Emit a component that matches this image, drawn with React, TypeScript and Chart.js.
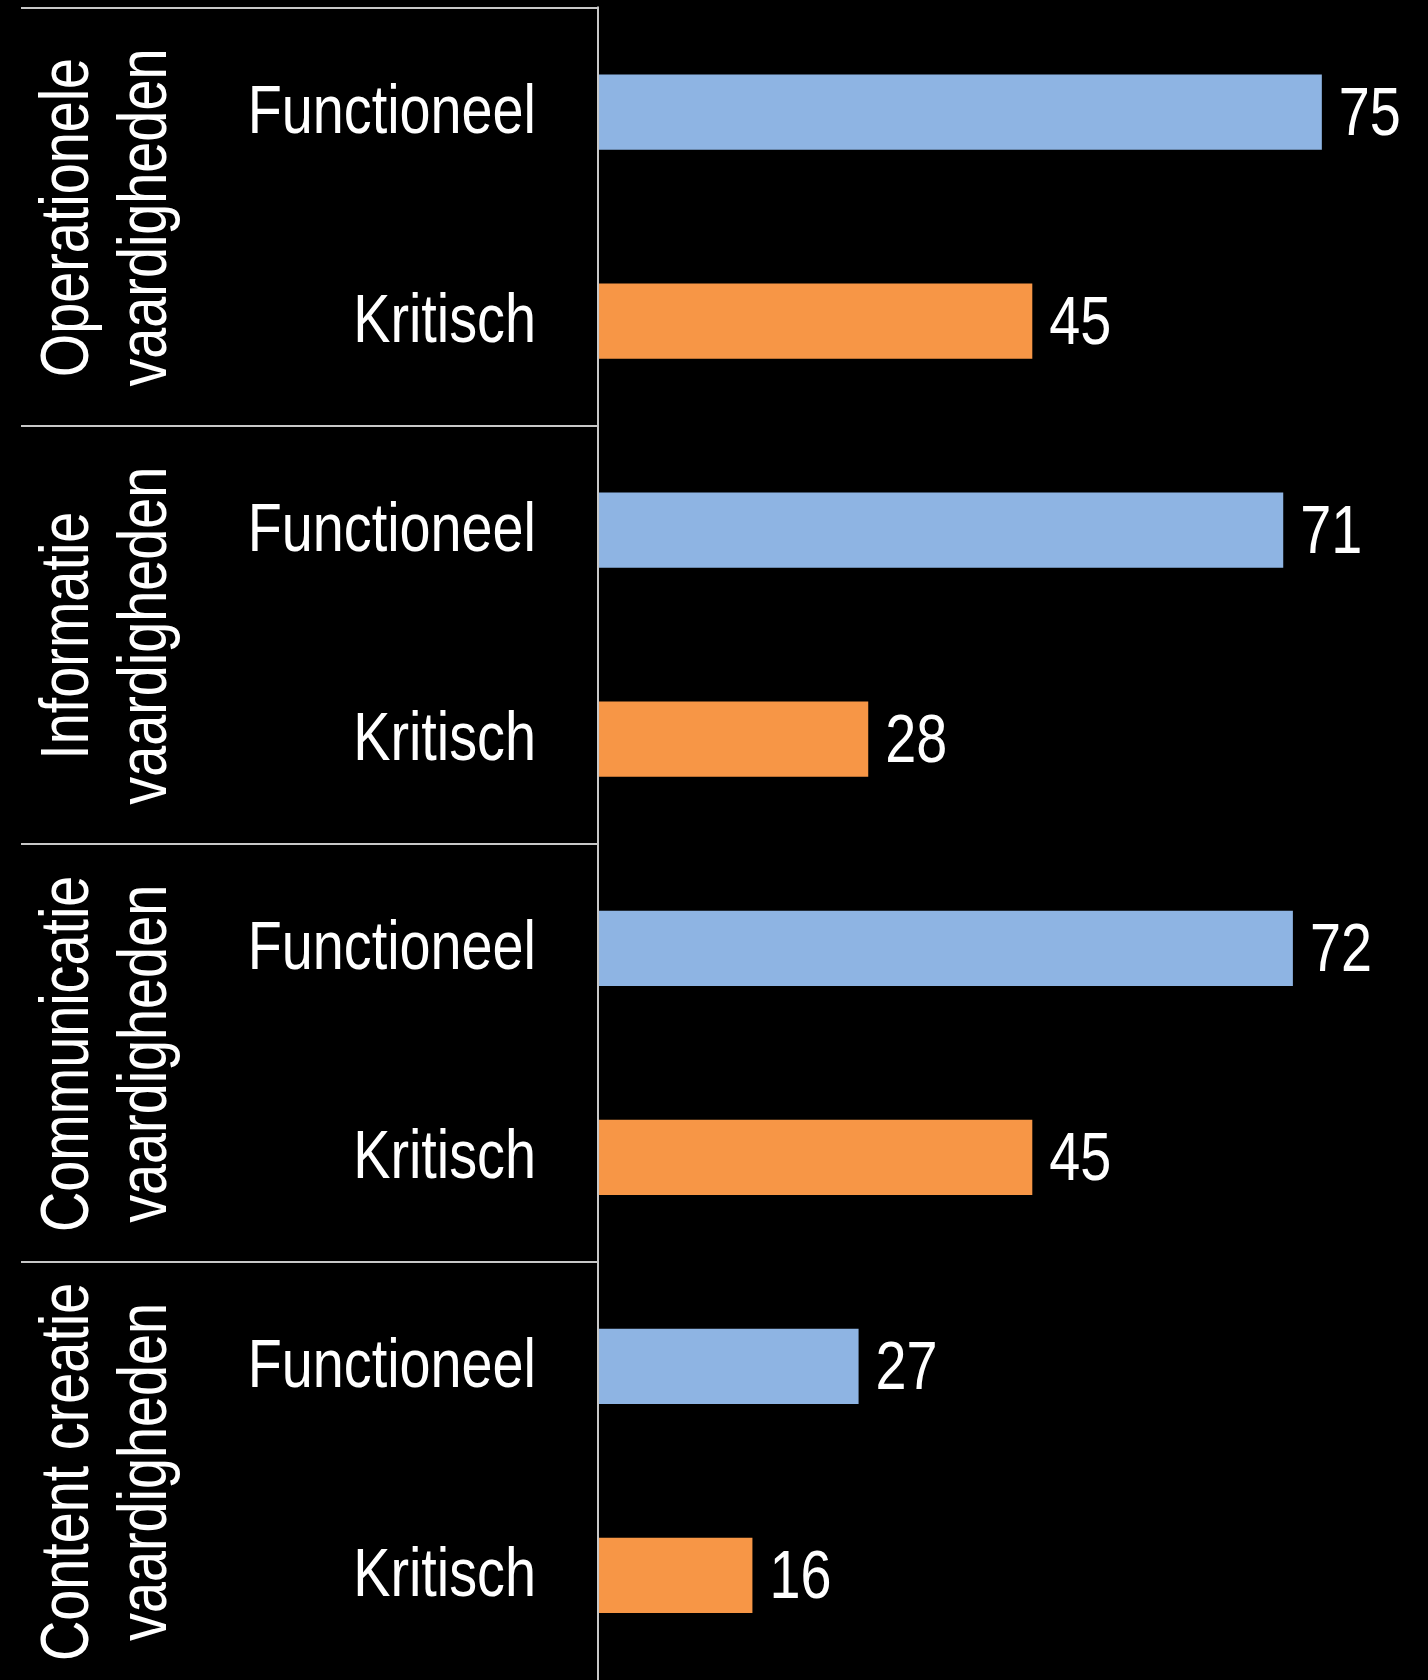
import React, { useEffect, useRef } from "react";
import { Chart, registerables } from "chart.js";

Chart.register(...registerables);

const groupLines1 = ["Operationele", "Informatie", "Communicatie", "Content creatie"];
const groupLines2 = ["vaardigheden", "vaardigheden", "vaardigheden", "vaardigheden"];
const subLabels = ["Functioneel", "Kritisch"];
const functioneelValues = [75, 71, 72, 27];
const kritischValues = [45, 28, 45, 16];
const xMax = 86;

const blue = "#8EB4E3";
const orange = "#F79646";
const lineColor = "#C8C8C8";
const FONT = '"Liberation Sans", Arial, sans-serif';
const NARROW = 0.82;

function narrowText(ctx: CanvasRenderingContext2D, text: string, x: number, y: number) {
  ctx.save();
  ctx.translate(x, y);
  ctx.scale(NARROW, 1);
  ctx.fillText(text, 0, 0);
  ctx.restore();
}

export default function App() {
  const ref = useRef<HTMLCanvasElement | null>(null);

  useEffect(() => {
    document.body.style.margin = "0";
    document.body.style.background = "#000";
    const labels: string[] = [];
    const values: number[] = [];
    const colors: string[] = [];
    for (let g = 0; g < groupLines1.length; g++) {
      labels.push(subLabels[0], subLabels[1]);
      values.push(functioneelValues[g], kritischValues[g]);
      colors.push(blue, orange);
    }

    const decor = {
      id: "decor",
      afterDatasetsDraw(chart: any) {
        const ctx = chart.ctx as CanvasRenderingContext2D;
        const y = chart.scales.y;
        const area = chart.chartArea;
        ctx.save();
        // separators
        ctx.strokeStyle = lineColor;
        ctx.lineWidth = 2;
        for (let g = 0; g < groupLines1.length; g++) {
          const py = Math.round(y.getPixelForValue(2 * g - 0.5));
          ctx.beginPath();
          ctx.moveTo(21, py);
          ctx.lineTo(area.left, py);
          ctx.stroke();
        }
        ctx.beginPath();
        ctx.moveTo(area.left, area.top - 1);
        ctx.lineTo(area.left, chart.height);
        ctx.stroke();

        ctx.fillStyle = "#fff";
        ctx.font = `68px ${FONT}`;

        // category (tick) labels
        ctx.textAlign = "right";
        ctx.textBaseline = "middle";
        chart.data.labels.forEach((lab: string, i: number) => {
          narrowText(ctx, lab, 536, y.getPixelForValue(i) + 2);
        });

        // group labels
        ctx.textAlign = "center";
        ctx.textBaseline = "alphabetic";
        for (let g = 0; g < groupLines1.length; g++) {
          const cy = (y.getPixelForValue(2 * g) + y.getPixelForValue(2 * g + 1)) / 2;
          ctx.save();
          ctx.translate(0, cy + 1);
          ctx.rotate(-Math.PI / 2);
          narrowText(ctx, groupLines1[g], 0, 88);
          narrowText(ctx, groupLines2[g], 0, 166);
          ctx.restore();
        }

        // value labels
        ctx.textAlign = "left";
        ctx.textBaseline = "middle";
        const meta = chart.getDatasetMeta(0);
        meta.data.forEach((bar: any, i: number) => {
          narrowText(ctx, String(values[i]), bar.x + 17, bar.y + 4);
        });
        ctx.restore();
      },
    };

    const chart = new Chart(ref.current!, {
      type: "bar",
      data: {
        labels,
        datasets: [
          {
            data: values,
            backgroundColor: colors,
            borderWidth: 0,
            barPercentage: 0.36,
            categoryPercentage: 1,
          },
        ],
      },
      options: {
        indexAxis: "y",
        animation: false,
        responsive: false,
        maintainAspectRatio: false,
        layout: { padding: { top: 7.5, right: 0, bottom: -4, left: 0 } },
        plugins: { legend: { display: false }, tooltip: { enabled: false } },
        scales: {
          x: { display: false, min: 0, max: xMax },
          y: {
            afterFit: (s: any) => {
              s.width = 598;
              s.paddingTop = 0;
              s.paddingBottom = 0;
            },
            border: { display: false },
            grid: { display: false, drawTicks: false },
            ticks: { display: false },
          },
        },
      },
      plugins: [decor],
    });
    return () => chart.destroy();
  }, []);

  return (
    <canvas
      ref={ref}
      width={1428}
      height={1680}
      style={{ display: "block", width: 1428, height: 1680, background: "#000" }}
    />
  );
}
